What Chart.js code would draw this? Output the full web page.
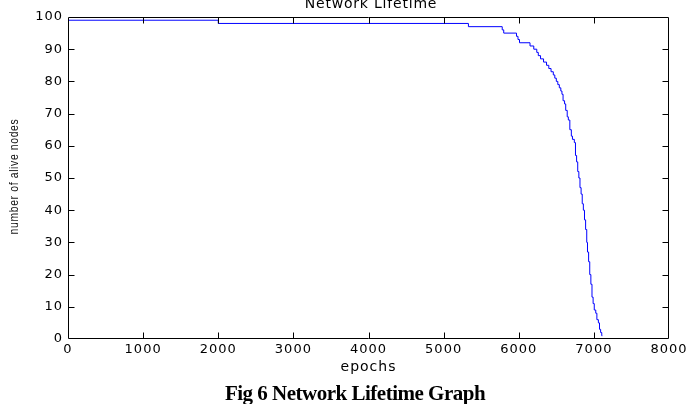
<!DOCTYPE html>
<html>
<head>
<meta charset="utf-8">
<script src="https://cdn.jsdelivr.net/npm/chart.js@4/dist/chart.umd.min.js"></script>
<style>
  html, body { margin: 0; padding: 0; background: #fff; }
  #wrap { position: relative; width: 698px; height: 404px; overflow: hidden; background: #fff; }
  #c { position: absolute; left: 0; top: 0; }
  #title { position: absolute; left: 0; width: 742px; top: -5px; text-align: center;
           font-family: "DejaVu Sans", sans-serif; font-size: 14px; letter-spacing: 0.8px; color: #000; line-height: 16px; }
  #caption { position: absolute; left: 0; width: 710px; top: 382px; text-align: center;
             font-family: "Liberation Serif", "Times New Roman", serif; font-weight: bold; font-size: 21px;
             letter-spacing: -0.5px; color: #000; line-height: 22px; }
</style>
</head>
<body>
<div id="wrap">
  <canvas id="c" width="698" height="404"></canvas>
  <div id="title">Network Lifetime</div>
  <div id="caption">Fig 6 Network Lifetime Graph</div>
</div>
<script>
// Epoch at which the number of alive nodes changes, and the new count
const epochs = [0, 2000, 5330, 5780, 5800, 5970, 5990, 6010, 6150, 6200, 6240, 6260, 6290, 6330,
  6370, 6400, 6430, 6460, 6480, 6500, 6520, 6540, 6560, 6575, 6590, 6610, 6625, 6645, 6660,
  6680, 6700, 6715, 6740, 6755, 6770, 6785, 6800, 6815, 6830, 6845, 6860, 6875, 6890, 6905,
  6915, 6930, 6945, 6960, 6975, 6990, 7005, 7025, 7040, 7060, 7075, 7090, 7105, 7112];
const alive = [99, 98, 97, 96, 95, 94, 93, 92, 91, 90, 89, 88, 87, 86,
  85, 84, 83, 82, 81, 80, 79, 78, 77, 76, 74, 73, 71, 69, 68,
  65, 63, 62, 61, 57, 55, 52, 50, 47, 45, 42, 40, 37, 34, 30,
  27, 24, 20, 17, 13, 11, 9, 8, 6, 5, 3, 2, 1, 1];
const xTicks = [0, 1000, 2000, 3000, 4000, 5000, 6000, 7000, 8000];
const yTicks = [0, 10, 20, 30, 40, 50, 60, 70, 80, 90, 100];
const xLabel = 'epochs';
const yLabel = 'number of alive nodes';

const points = epochs.map((e, i) => ({x: e, y: alive[i]}));

const framePlugin = {
  id: 'frame',
  beforeUpdate(chart) { chart.ctx.letterSpacing = '1px'; },
  beforeDraw(chart) { chart.ctx.letterSpacing = '1px'; },
  afterDatasetsDraw(chart) {
    const {ctx, chartArea: a, scales: {x, y}} = chart;
    ctx.save();
    ctx.strokeStyle = '#000';
    ctx.lineWidth = 1;
    ctx.beginPath();
    const L = Math.round(a.left) + 0.5, R = Math.round(a.right) - 0.5;
    const T = Math.round(a.top) + 0.5, B = Math.round(a.bottom) - 0.5;
    ctx.rect(L, T, R - L, B - T);
    const tl = 6;
    xTicks.forEach(v => {
      if (v === x.min || v === x.max) return;
      const px = Math.round(x.getPixelForValue(v)) + 0.5;
      ctx.moveTo(px, B); ctx.lineTo(px, B - tl);
      ctx.moveTo(px, T); ctx.lineTo(px, T + tl);
    });
    yTicks.forEach(v => {
      if (v === y.min || v === y.max) return;
      const py = Math.round(y.getPixelForValue(v)) + 0.5;
      ctx.moveTo(L, py); ctx.lineTo(L + tl, py);
      ctx.moveTo(R, py); ctx.lineTo(R - tl, py);
    });
    ctx.stroke();
    // condensed y-axis label (narrow font look)
    ctx.letterSpacing = '0.8px';
    ctx.fillStyle = '#111';
    ctx.font = '13px "Liberation Sans", Arial, sans-serif';
    ctx.textAlign = 'center';
    ctx.textBaseline = 'middle';
    ctx.translate(14, (a.top + a.bottom) / 2 - 1.5);
    ctx.rotate(-Math.PI / 2);
    ctx.scale(0.8, 1);
    ctx.fillText(yLabel, 0, 0);
    ctx.restore();
    ctx.letterSpacing = '1px';
  }
};

new Chart(document.getElementById('c'), {
  type: 'line',
  data: {
    datasets: [{
      data: points,
      borderColor: 'rgb(0,0,255)',
      borderWidth: 1,
      pointRadius: 0,
      stepped: true,
      fill: false,
      tension: 0
    }]
  },
  options: {
    responsive: false,
    animation: false,
    devicePixelRatio: 1,
    layout: { padding: { left: 0, top: 17, right: 29, bottom: 28 } },
    plugins: { legend: { display: false }, tooltip: { enabled: false }, title: { display: false } },
    scales: {
      x: {
        type: 'linear',
        min: 0, max: 8000,
        afterBuildTicks(s) { s.ticks = xTicks.map(v => ({value: v})); },
        afterFit(s) { s.height = 37; },
        grid: { display: false, drawTicks: false },
        border: { display: false },
        ticks: { padding: 3, color: '#000', font: { family: 'DejaVu Sans', size: 13 }, maxRotation: 0, autoSkip: false,
                 callback: v => String(v) },
        title: { display: true, text: xLabel, color: '#000', padding: { top: 0, bottom: 0 },
                 font: { family: 'DejaVu Sans', size: 14 } }
      },
      y: {
        type: 'linear',
        min: 0, max: 100,
        afterBuildTicks(s) { s.ticks = yTicks.map(v => ({value: v})); },
        afterFit(s) { s.width = 68; },
        grid: { display: false, drawTicks: false },
        border: { display: false },
        ticks: { padding: 5, color: '#000', font: { family: 'DejaVu Sans', size: 13 }, autoSkip: false,
                 callback: v => String(v) },
        title: { display: false }
      }
    }
  },
  plugins: [framePlugin]
});
</script>
</body>
</html>
